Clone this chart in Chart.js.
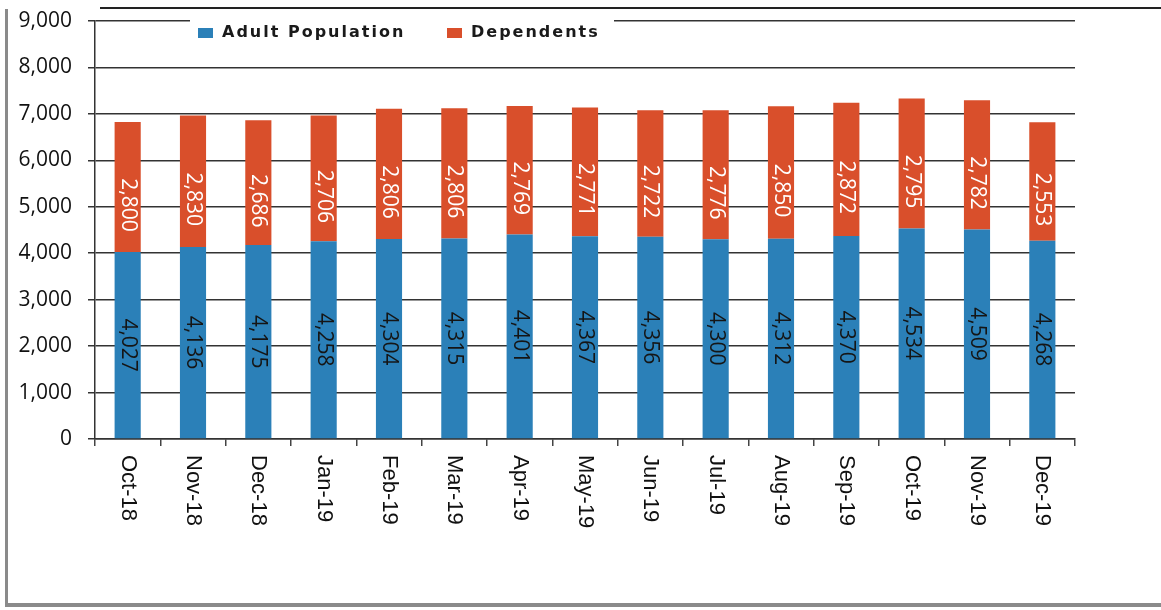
<!DOCTYPE html>
<html lang="en">
<head>
<meta charset="UTF-8">
<title>Adult Population and Dependents</title>
<script src="https://cdn.jsdelivr.net/npm/chart.js"></script>
<style>
    html, body { margin: 0; padding: 0; background: #ffffff; }
    body { width: 1161px; height: 610px; position: relative; overflow: hidden; }
    .frame {
        position: absolute; left: 5px; top: 9px; width: 1170px; height: 594px;
        border-left: 3px solid #8a8a8a; border-bottom: 4px solid #8a8a8a;
    }
    .topline { position: absolute; left: 100px; top: 7px; right: 0; height: 2px; background: #222; }
    #wrap { position: absolute; left: 0; top: 0; width: 1161px; height: 610px; }
</style>
</head>
<body>
<div class="frame"></div>
<div class="topline"></div>
<div id="wrap"><canvas id="popChart" width="1161" height="610"></canvas></div>

<script>
    const months = ['Oct-18', 'Nov-18', 'Dec-18', 'Jan-19', 'Feb-19', 'Mar-19', 'Apr-19', 'May-19',
                    'Jun-19', 'Jul-19', 'Aug-19', 'Sep-19', 'Oct-19', 'Nov-19', 'Dec-19'];
    const adultPopulation = [4027, 4136, 4175, 4258, 4304, 4315, 4401, 4367, 4356, 4300, 4312, 4370, 4534, 4509, 4268];
    const dependents = [2800, 2830, 2686, 2706, 2806, 2806, 2769, 2771, 2722, 2776, 2850, 2872, 2795, 2782, 2553];
    const seriesNames = ['Adult Population', 'Dependents'];

    const blue = '#2b80b8';
    const red = '#d94f2b';
    const fmt = v => v.toLocaleString('en-US');

    // value labels inside the bars, turned 90deg clockwise
    const barLabels = {
        id: 'barLabels',
        afterDatasetsDraw(chart) {
            const ctx = chart.ctx;
            chart.data.datasets.forEach((ds, di) => {
                const meta = chart.getDatasetMeta(di);
                meta.data.forEach((bar, i) => {
                    const yc = (bar.y + bar.base) / 2 + (di === 1 ? 18 : 0);
                    ctx.save();
                    ctx.translate(bar.x, yc);
                    ctx.rotate(Math.PI / 2);
                    ctx.font = '21px "Open Sans"';
                    ctx.fillStyle = di === 1 ? '#ffffff' : '#151515';
                    ctx.textAlign = 'center';
                    ctx.textBaseline = 'middle';
                    ctx.fillText(fmt(ds.data[i]), 0, 0);
                    ctx.restore();
                });
            });
        }
    };

    // month labels, also turned clockwise (chart.js only turns the other way)
    const monthLabels = {
        id: 'monthLabels',
        afterDraw(chart) {
            const ctx = chart.ctx;
            const xs = chart.scales.x;
            months.forEach((m, i) => {
                ctx.save();
                ctx.translate(xs.getPixelForValue(i), chart.chartArea.bottom + 16);
                ctx.rotate(Math.PI / 2);
                ctx.font = '22px "Liberation Sans"';
                ctx.fillStyle = '#111111';
                ctx.textAlign = 'left';
                ctx.textBaseline = 'middle';
                ctx.fillText(m, 0, 0);
                ctx.restore();
            });
        }
    };

    // legend sits over the top gridline on a white patch
    const topLegend = {
        id: 'topLegend',
        afterDraw(chart) {
            const ctx = chart.ctx;
            const y = 33;
            ctx.save();
            ctx.fillStyle = '#ffffff';
            ctx.fillRect(190, 12, 424, 34);
            ctx.font = 'bold 16px "DejaVu Sans"';
            ctx.letterSpacing = '2px';
            ctx.textBaseline = 'middle';
            ctx.textAlign = 'left';
            const items = [[198, blue], [447, red]];
            items.forEach(([x, c], i) => {
                ctx.fillStyle = c;
                ctx.fillRect(x, y - 5, 15, 10);
                ctx.fillStyle = '#1a1a1a';
                ctx.fillText(seriesNames[i], x + 24, y);
            });
            ctx.restore();
        }
    };

    new Chart(document.getElementById('popChart'), {
        type: 'bar',
        data: {
            labels: months,
            datasets: [
                { label: seriesNames[0], data: adultPopulation, backgroundColor: blue, barPercentage: 0.4, categoryPercentage: 1 },
                { label: seriesNames[1], data: dependents, backgroundColor: red, barPercentage: 0.4, categoryPercentage: 1 }
            ]
        },
        options: {
            responsive: false,
            animation: false,
            layout: { padding: { top: 21, right: 86, left: 0, bottom: 0 } },
            plugins: {
                legend: { display: false },
                tooltip: { enabled: false }
            },
            scales: {
                x: {
                    stacked: true,
                    grid: { drawOnChartArea: false, drawTicks: true, tickLength: 7, color: '#444', lineWidth: 1.5 },
                    border: { color: '#333', width: 1.5 },
                    ticks: { display: false },
                    afterFit: s => { s.height = 171; }
                },
                y: {
                    stacked: true,
                    min: 0,
                    max: 9000,
                    ticks: {
                        stepSize: 1000,
                        padding: 16,
                        color: '#111',
                        font: { family: 'Open Sans', size: 21 },
                        callback: v => fmt(v)
                    },
                    grid: { color: '#333', lineWidth: 1.5, tickLength: 7 },
                    border: { color: '#333', width: 1.5 },
                    afterFit: s => { s.width = 95; s.paddingTop = 0; s.paddingBottom = 0; }
                }
            }
        },
        plugins: [barLabels, monthLabels, topLegend]
    });
</script>
</body>
</html>
